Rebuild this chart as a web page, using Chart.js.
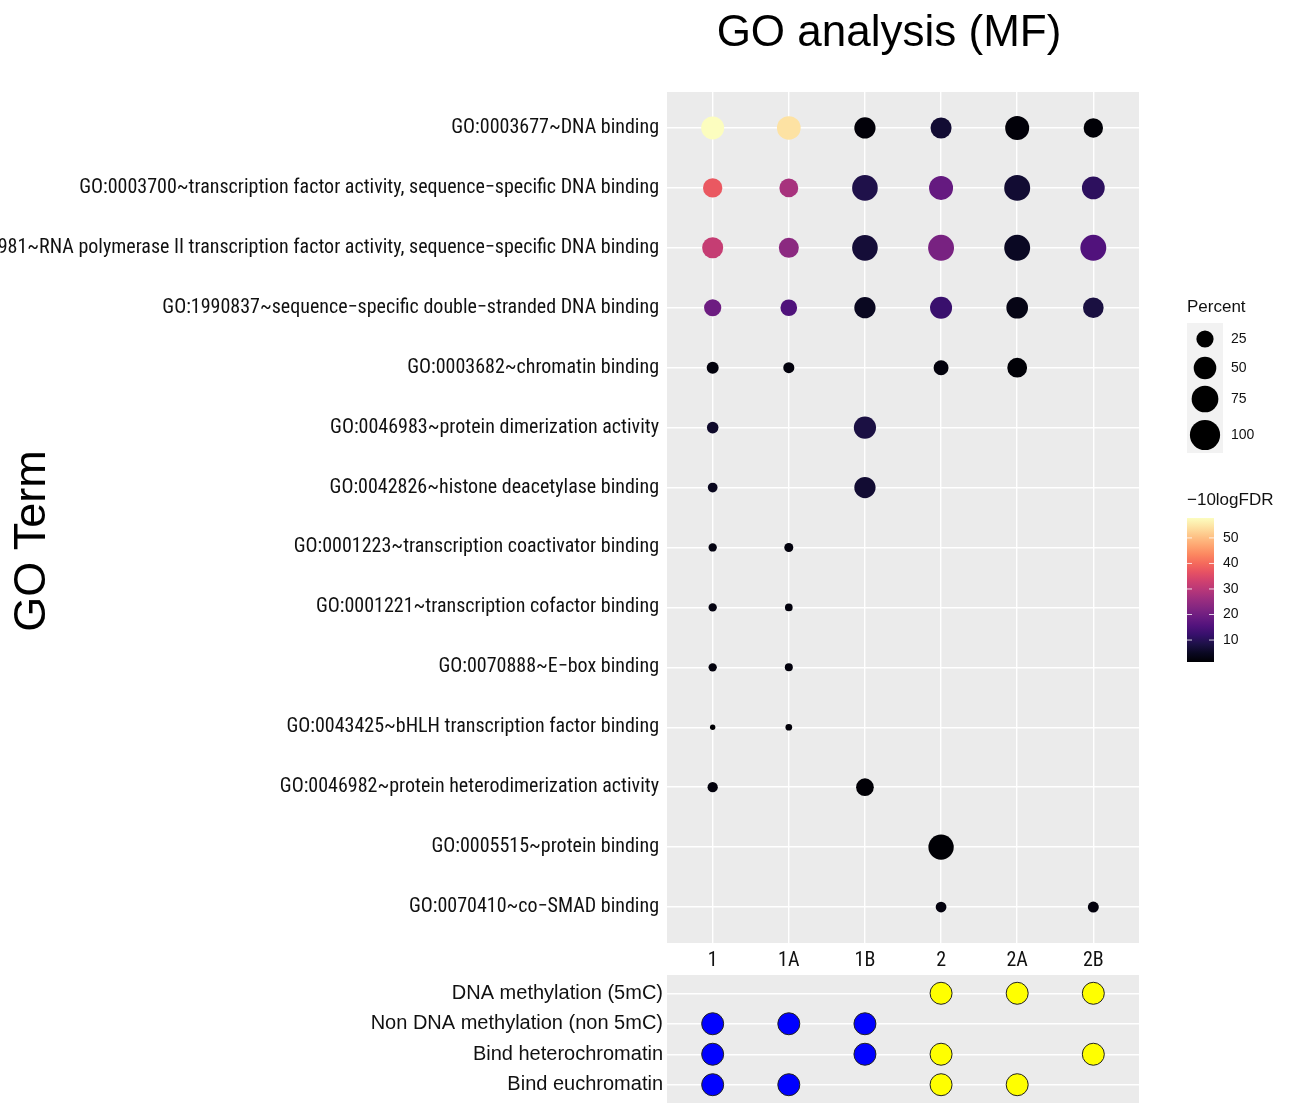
<!DOCTYPE html>
<html>
<head>
<meta charset="utf-8">
<script src="https://cdn.jsdelivr.net/npm/chart.js@4.4.1/dist/chart.umd.min.js"></script>
<style>
  body { margin: 0; background: #fff; width: 1291px; height: 1103px; overflow: hidden; position: relative; }
  #title { position: absolute; left: 589px; width: 600px; top: 9px; text-align: center;
           font: 44px "Liberation Sans", Arial, sans-serif; line-height: 44px; color: #000; }
  #ytitle { position: absolute; left: 30px; top: 541px; width: 300px; margin-left: -150px; margin-top: -24px;
            text-align: center; font: 45px "Liberation Sans", Arial, sans-serif; line-height: 48px; color: #000;
            transform: rotate(-90deg); }
  #main { position: absolute; left: 0; top: 0; }
  #bottom { position: absolute; left: 0; top: 970px; }
</style>
</head>
<body>
<canvas id="main" width="1291" height="985"></canvas>
<canvas id="bottom" width="1291" height="133"></canvas>
<div id="title">GO analysis (MF)</div>
<div id="ytitle">GO Term</div>
<script>
// --- Datos ---
const groups = ['1', '1A', '1B', '2', '2A', '2B'];

const goTerms = [
  'GO:0003677~DNA binding',
  'GO:0003700~transcription factor activity, sequence\u2212specific DNA binding',
  'GO:0000981~RNA polymerase II transcription factor activity, sequence\u2212specific DNA binding',
  'GO:1990837~sequence\u2212specific double\u2212stranded DNA binding',
  'GO:0003682~chromatin binding',
  'GO:0046983~protein dimerization activity',
  'GO:0042826~histone deacetylase binding',
  'GO:0001223~transcription coactivator binding',
  'GO:0001221~transcription cofactor binding',
  'GO:0070888~E\u2212box binding',
  'GO:0043425~bHLH transcription factor binding',
  'GO:0046982~protein heterodimerization activity',
  'GO:0005515~protein binding',
  'GO:0070410~co\u2212SMAD binding'
];

// Percent por grupo (una entrada por GO term, null = no aparece)
const pct1  = [52, 34, 42, 25, 9, 8, 4.5, 2.5, 2.5, 2.5, 0.2, 5.5, null, null];
const pct1A = [56, 32, 37, 23, 7, null, null, 3.4, 1.8, 2.1, 0.9, null, null, null];
const pct1B = [43, 68, 68, 43, null, 48, 43, null, null, null, null, 27, null, null];
const pct2  = [42, 58, 70, 47, 17, null, null, null, null, null, null, null, 66, 6.3];
const pct2A = [58, 70, 70, 45, 36, null, null, null, null, null, null, null, null, null];
const pct2B = [34, 51, 70, 40, null, null, null, null, null, null, null, null, null, 6.8];

// -10logFDR por grupo
const fdr1  = [57.8, 37.5, 31.6, 19.5, 2.5, 5.8, 4.5, 3, 3, 2.5, 1.4, 2.5, null, null];
const fdr1A = [54.3, 27.5, 23.7, 15.2, 2.5, null, null, 2.5, 2.5, 2.5, 2, null, null, null];
const fdr1B = [2, 8.7, 7, 4.8, null, 8.1, 6.5, null, null, null, null, 1.6, null, null];
const fdr2  = [6.5, 18.3, 21, 12.4, 2.5, null, null, null, null, null, null, null, 1.5, 2.5];
const fdr2A = [2, 6.5, 5, 3.4, 1.8, null, null, null, null, null, null, null, null, null];
const fdr2B = [1.8, 10.7, 15.5, 7.9, null, null, null, null, null, null, null, null, null, 2.5];

const percentTicks = [25, 50, 75, 100];
const fdrTicks = [10, 20, 30, 40, 50];

// Panel inferior
const features = ['DNA methylation (5mC)', 'Non DNA methylation (non 5mC)', 'Bind heterochromatin', 'Bind euchromatin'];
const feat1  = [0, 1, 1, 1];
const feat1A = [0, 1, 0, 1];
const feat1B = [0, 1, 1, 0];
const feat2  = [1, 0, 1, 1];
const feat2A = [1, 0, 0, 1];
const feat2B = [1, 0, 1, 0];

const pctByGroup = [pct1, pct1A, pct1B, pct2, pct2A, pct2B];
const fdrByGroup = [fdr1, fdr1A, fdr1B, fdr2, fdr2A, fdr2B];
const featByGroup = [feat1, feat1A, feat1B, feat2, feat2A, feat2B];

// --- Escalas de color y tamaño ---
const magmaStops = ['#000004', '#0a0822', '#1d1147', '#36106b', '#51127c', '#6a1c81', '#832681', '#9c2e7f',
  '#b73779', '#d0416f', '#e75263', '#f56b5c', '#fc8961', '#fea772', '#fec488', '#fde2a3', '#fcfdbf'];

const allFdr = fdrByGroup.flat().filter(v => v != null);
const fdrMin = Math.min(...allFdr);
const fdrMax = Math.max(...allFdr);

function hexToRgb(h) {
  return [parseInt(h.slice(1, 3), 16), parseInt(h.slice(3, 5), 16), parseInt(h.slice(5, 7), 16)];
}
function magma(t) {
  t = Math.max(0, Math.min(1, t));
  const pos = t * (magmaStops.length - 1);
  const i = Math.min(Math.floor(pos), magmaStops.length - 2);
  const f = pos - i;
  const a = hexToRgb(magmaStops[i]), b = hexToRgb(magmaStops[i + 1]);
  const c = a.map((v, k) => Math.round(v + (b[k] - v) * f));
  return `rgb(${c[0]},${c[1]},${c[2]})`;
}
const fdrColor = v => magma((v - fdrMin) / (fdrMax - fdrMin));
const sizeOf = p => 2.1 + 1.3 * Math.sqrt(p); // radio del punto

// Roboto con font-stretch condensed (el "weight" entra tal cual en la cadena del font)
const condensedFont = { family: "Roboto, 'Liberation Sans', sans-serif", size: 20, weight: 'condensed' };
const regularFont = "'Liberation Sans', Arial, sans-serif";

// --- Plugins ---
const panelBg = {
  id: 'panelBg',
  beforeDraw(chart) {
    const { ctx, chartArea: a } = chart;
    ctx.save();
    ctx.fillStyle = '#EBEBEB';
    ctx.fillRect(a.left, a.top, a.right - a.left, a.bottom - a.top);
    ctx.restore();
  }
};

const legends = {
  id: 'legends',
  afterDraw(chart) {
    const { ctx, chartArea: a } = chart;
    const x0 = a.right + 48;
    ctx.save();
    ctx.fillStyle = '#111';
    ctx.textBaseline = 'middle';
    ctx.textAlign = 'left';

    // Leyenda Percent
    ctx.font = `17px ${regularFont}`;
    ctx.fillText('Percent', x0, 307);
    ctx.fillStyle = '#F2F2F2';
    ctx.fillRect(x0, 323, 36, 130);
    const keyY = [339, 368, 399, 435];
    percentTicks.forEach((p, i) => {
      ctx.fillStyle = '#000';
      ctx.beginPath();
      ctx.arc(x0 + 18, keyY[i], sizeOf(p), 0, Math.PI * 2);
      ctx.fill();
      ctx.fillStyle = '#111';
      ctx.font = `14px ${regularFont}`;
      ctx.fillText(String(p), x0 + 44, keyY[i]);
    });

    // Barra de color -10logFDR
    ctx.font = `17px ${regularFont}`;
    ctx.fillText('\u221210logFDR', x0, 500);
    const top = 518, bot = 662, w = 27;
    const grad = ctx.createLinearGradient(0, bot, 0, top);
    magmaStops.forEach((c, i) => grad.addColorStop(i / (magmaStops.length - 1), c));
    ctx.fillStyle = grad;
    ctx.fillRect(x0, top, w, bot - top);
    ctx.font = `14px ${regularFont}`;
    fdrTicks.forEach(v => {
      const y = bot - (v - fdrMin) / (fdrMax - fdrMin) * (bot - top);
      ctx.strokeStyle = 'rgba(255,255,255,0.8)';
      ctx.lineWidth = 1;
      ctx.beginPath();
      ctx.moveTo(x0, y); ctx.lineTo(x0 + 5, y);
      ctx.moveTo(x0 + w - 5, y); ctx.lineTo(x0 + w, y);
      ctx.stroke();
      ctx.fillStyle = '#111';
      ctx.fillText(String(v), x0 + 36, y);
    });
    ctx.restore();
  }
};

// --- Gráfica principal ---
const mainPoints = [];
groups.forEach((g, gi) => {
  goTerms.forEach((t, ti) => {
    const p = pctByGroup[gi][ti];
    if (p != null) mainPoints.push({ x: gi, y: ti, p: p, f: fdrByGroup[gi][ti] });
  });
});

new Chart(document.getElementById('main'), {
  type: 'scatter',
  data: {
    datasets: [{
      data: mainPoints,
      pointRadius: c => sizeOf(c.raw.p),
      backgroundColor: c => fdrColor(c.raw.f),
      borderWidth: 0
    }]
  },
  options: {
    responsive: false,
    animation: false,
    events: [],
    layout: { autoPadding: false, padding: { top: 92, right: 152, left: 0, bottom: 0 } },
    plugins: { legend: { display: false }, tooltip: { enabled: false } },
    scales: {
      x: {
        type: 'linear', min: -0.6, max: groups.length - 0.4,
        afterBuildTicks: s => { s.ticks = groups.map((g, i) => ({ value: i })); },
        afterFit: s => { s.height = 42; s.paddingLeft = 0; s.paddingRight = 0; },
        grid: { color: '#FFFFFF', lineWidth: 1.4, drawTicks: false },
        border: { display: false },
        ticks: { callback: v => groups[v], autoSkip: false, maxRotation: 0, padding: 6,
                 color: '#111', font: condensedFont }
      },
      y: {
        type: 'linear', reverse: true, min: -0.6, max: goTerms.length - 0.4,
        afterBuildTicks: s => { s.ticks = goTerms.map((t, i) => ({ value: i })); },
        afterFit: s => { s.width = 667; s.paddingTop = 0; s.paddingBottom = 0; },
        grid: { color: '#FFFFFF', lineWidth: 1.4, drawTicks: false },
        border: { display: false },
        ticks: { callback: v => goTerms[v], autoSkip: false, padding: 8,
                 color: '#111', font: condensedFont }
      }
    }
  },
  plugins: [panelBg, legends]
});

// --- Panel inferior ---
const featColors = ['#0000FF', '#0000FF', '#0000FF', '#FFFF00', '#FFFF00', '#FFFF00'];
const bottomPoints = [];
groups.forEach((g, gi) => {
  features.forEach((f, fi) => {
    if (featByGroup[gi][fi]) bottomPoints.push({ x: gi, y: fi, g: gi });
  });
});

new Chart(document.getElementById('bottom'), {
  type: 'scatter',
  data: {
    datasets: [{
      data: bottomPoints,
      pointRadius: 11,
      backgroundColor: c => featColors[c.raw.g],
      borderColor: '#222',
      borderWidth: 1
    }]
  },
  options: {
    responsive: false,
    animation: false,
    events: [],
    layout: { autoPadding: false, padding: { top: 5, right: 152, left: 0, bottom: 0 } },
    plugins: { legend: { display: false }, tooltip: { enabled: false } },
    scales: {
      x: { type: 'linear', min: -0.6, max: groups.length - 0.4, display: false },
      y: {
        type: 'linear', reverse: true, min: -0.6, max: features.length - 0.4,
        afterBuildTicks: s => { s.ticks = features.map((f, i) => ({ value: i })); },
        afterFit: s => { s.width = 667; s.paddingTop = 0; s.paddingBottom = 0; },
        grid: { color: '#FFFFFF', lineWidth: 1.4, drawTicks: false },
        border: { display: false },
        ticks: { callback: v => features[v], autoSkip: false, padding: 4,
                 color: '#111', font: { family: regularFont, size: 20 } }
      }
    }
  },
  plugins: [panelBg]
});
</script>
</body>
</html>
